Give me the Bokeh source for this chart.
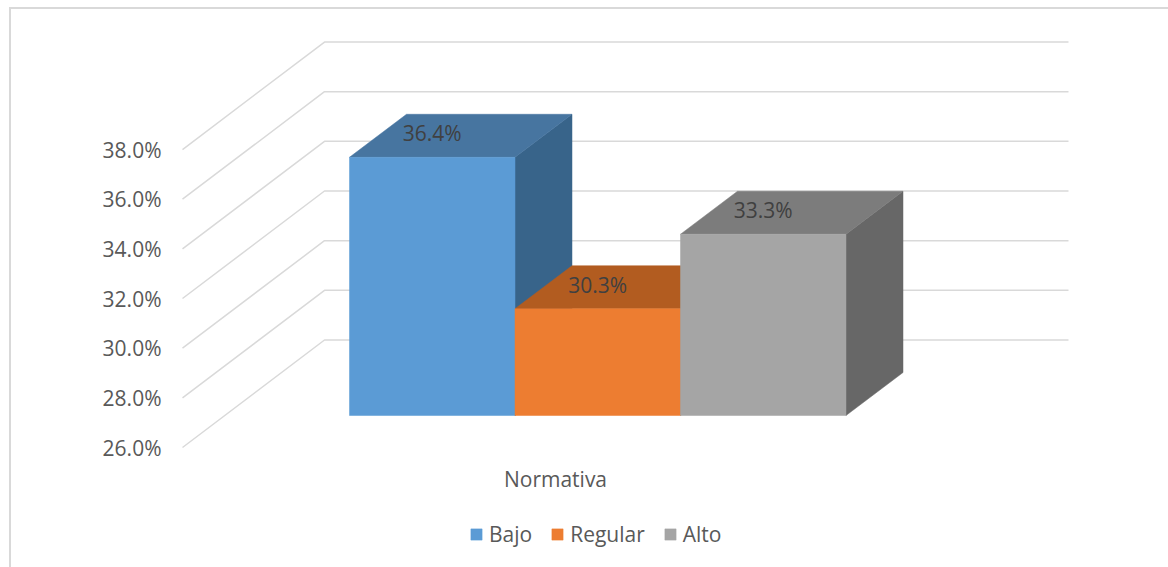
from bokeh.embed import file_html
from bokeh.resources import INLINE
from bokeh.plotting import figure
from bokeh.core.properties import value
from bokeh.models import (FixedTicker, Legend, LegendItem,
                          PrintfTickFormatter, Range1d)

# Chart values
category = "Normativa"
series = ["Bajo", "Regular", "Alto"]
values = [36.4, 30.3, 33.3]
axis_ticks = [26, 28, 30, 32, 34, 36, 38]

# Colours: front face, top face, side face
front_colors = ["#5B9BD5", "#ED7D31", "#A5A5A5"]
top_colors = ["#4775A0", "#B25C20", "#7C7C7C"]
side_colors = ["#38648A", "#A14F19", "#676767"]

FONT = "Open Sans"
PAGE_W, PAGE_H = 1168, 567
BORDER = 2
OFFSET_X, OFFSET_Y = 9 + BORDER, 7 + BORDER
PLOT_LEFT = 166

# Pixel scales of the two axes
PX_PER_PCT = 24.83
PX_PER_BAR = 165.5
Y_BASE = 26.0
BASE_PX = 447.0
BAR0_PX = 349.0

def px_x(dx):
    return dx / PX_PER_BAR

def px_y(dy):
    return dy / PX_PER_PCT

# The border is part of the element's box, so it is added to the size
p = figure(
    width=PAGE_W - OFFSET_X + BORDER, height=PAGE_H - OFFSET_Y + BORDER,
    output_backend="svg", toolbar_location=None,
    x_axis_type=None,
    x_range=Range1d((PLOT_LEFT - BAR0_PX) / PX_PER_BAR, (PAGE_W + BORDER - BAR0_PX) / PX_PER_BAR),
    y_range=Range1d(Y_BASE - (PAGE_H + BORDER - BASE_PX) / PX_PER_PCT,
                    Y_BASE + (BASE_PX - OFFSET_Y) / PX_PER_PCT),
    min_border_left=PLOT_LEFT - OFFSET_X, min_border_right=0, min_border_top=0, min_border_bottom=0,
    margin=(7, 0, 0, 9),
)
p.outline_line_color = None
p.grid.visible = False
# Chart area border, left and top only
p.styles = {"border-left": f"{BORDER}px solid #D9D9D9", "border-top": f"{BORDER}px solid #D9D9D9"}

yaxis = p.yaxis[0]
yaxis.ticker = FixedTicker(ticks=axis_ticks)
yaxis.formatter = PrintfTickFormatter(format="%.1f%%")
yaxis.axis_line_color = None
yaxis.major_tick_line_color = None
yaxis.minor_tick_line_color = None
yaxis.major_tick_in = 0
yaxis.major_tick_out = 0
yaxis.major_label_standoff = 5
yaxis.major_label_text_font = FONT
yaxis.major_label_text_font_size = "21px"
yaxis.major_label_text_color = "#595959"

# Wall and floor gridlines in oblique projection
wall_x = px_x(182 - BAR0_PX)
wall_dx = px_x(142)
wall_dy = px_y(107.5)
wall_end = px_x(1068 - BAR0_PX)
for t in axis_ticks:
    p.line([wall_x, wall_x + wall_dx, wall_end], [t, t + wall_dy, t + wall_dy],
           line_color="#D9D9D9", line_width=1.5)

# Bars: they stand part of the way into the floor
plane_dy = px_y(32)
depth_dx = px_x(57)
depth_dy = px_y(43)
fronts = []
for i, v in enumerate(values):
    base = Y_BASE + plane_dy
    top = v + plane_dy
    l, r = float(i), float(i + 1)
    p.patch([r, r + depth_dx, r + depth_dx, r],
            [base, base + depth_dy, top + depth_dy, top],
            fill_color=side_colors[i], line_color=side_colors[i], line_width=0.5)
    p.patch([l, l + depth_dx, r + depth_dx, r],
            [top, top + depth_dy, top + depth_dy, top],
            fill_color=top_colors[i], line_color=top_colors[i], line_width=0.5)
    fronts.append(p.quad(left=[l], right=[r], bottom=[base], top=[top],
                         fill_color=front_colors[i], line_color=front_colors[i], line_width=0.5))

# Data labels sit on the top faces
p.text(x=[i + 0.5 for i in range(len(values))],
       y=[v + plane_dy + px_y(24) for v in values],
       text=[f"{v:.1f}%" for v in values],
       text_font=value(FONT), text_font_size="21px", text_color="#404040",
       text_align="center", text_baseline="middle")

# Category label under the floor
p.text(x=[px_x(555 - BAR0_PX)], y=[Y_BASE - px_y(31)], text=[category],
       text_font=value(FONT), text_font_size="21px", text_color="#595959",
       text_align="center", text_baseline="middle")

legend = Legend(
    items=[LegendItem(label=s, renderers=[f]) for s, f in zip(series, fronts)],
    orientation="horizontal", location=(303, 21),
    glyph_width=14, glyph_height=14, label_standoff=6, spacing=18,
    padding=0, margin=0, border_line_color=None, background_fill_alpha=0,
    label_text_font=FONT, label_text_font_size="21px", label_text_color="#595959",
)
p.add_layout(legend, "center")

open("out.html", "w").write(file_html(p, INLINE))
